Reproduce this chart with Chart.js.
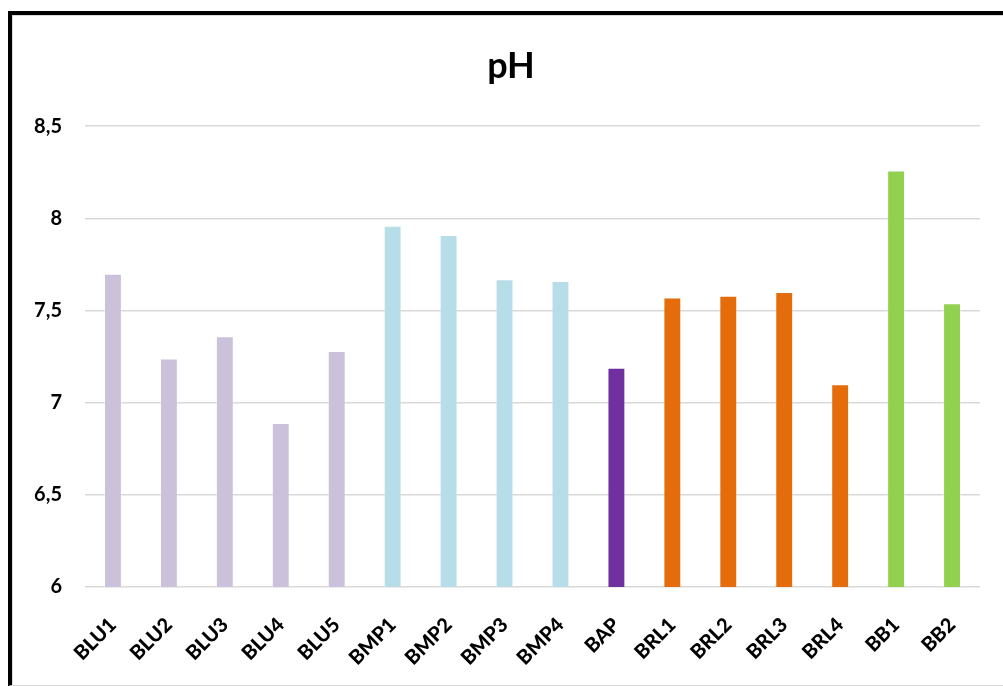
<!DOCTYPE html>
<html>
<head>
<meta charset="utf-8">
<script src="https://cdn.jsdelivr.net/npm/chart.js@4.4.1/dist/chart.umd.min.js"></script>
<style>
  html, body { margin: 0; padding: 0; background: #ffffff; overflow: hidden; width: 1003px; height: 686px; }
  #frame {
    position: absolute; left: 8px; top: 11px; width: 1100px; height: 675px;
    box-sizing: border-box;
    border-top: 4px solid #000; border-left: 4px solid #000; border-bottom: 1px solid #d9d9d9;
  }
  #inner {
    position: absolute; left: 0; top: 0; right: 0; bottom: 0;
    border-top: 1px solid #dcdcdc; border-left: 1px solid #dcdcdc;
  }
  #c { position: absolute; left: 0; top: 0; }
</style>
</head>
<body>
<div id="frame"><div id="inner"></div></div>
<canvas id="c" width="1022" height="686"></canvas>
<script>
const categories = ["BLU1","BLU2","BLU3","BLU4","BLU5","BMP1","BMP2","BMP3","BMP4","BAP","BRL1","BRL2","BRL3","BRL4","BB1","BB2"];
const phValues = [7.70, 7.24, 7.36, 6.89, 7.28, 7.96, 7.91, 7.67, 7.66, 7.19, 7.57, 7.58, 7.60, 7.10, 8.26, 7.54];
const barColors = ["#CCC1DA","#CCC1DA","#CCC1DA","#CCC1DA","#CCC1DA","#B7DEE8","#B7DEE8","#B7DEE8","#B7DEE8","#7030A0","#E46C0A","#E46C0A","#E46C0A","#E46C0A","#92D050","#92D050"];
const yTicks = [6, 6.5, 7, 7.5, 8, 8.5];
const chartTitle = "pH";

const FONT = "Lato, 'Open Sans', sans-serif";

new Chart(document.getElementById('c'), {
  type: 'bar',
  data: {
    labels: categories,
    datasets: [{
      label: chartTitle,
      data: phValues,
      backgroundColor: barColors,
      borderColor: 'rgba(255,255,255,0.35)',
      borderWidth: 1,
      barPercentage: 0.64,
      categoryPercentage: 0.5
    }]
  },
  options: {
    responsive: false,
    animation: false,
    layout: { padding: 0 },
    plugins: {
      legend: { display: false },
      tooltip: { enabled: false },
      title: {
        display: true,
        text: chartTitle,
        color: '#000',
        font: { family: FONT, size: 36, weight: 'bold', lineHeight: 1.2 },
        padding: { top: 45, bottom: 38 }
      }
    },
    scales: {
      y: {
        min: 6, max: 8.5,
        afterBuildTicks: s => { s.ticks = yTicks.map(v => ({ value: v })); },
        afterFit: s => { s.width = 85; },
        border: { display: false },
        grid: { color: '#d9d9d9', lineWidth: 1.5, drawTicks: false },
        ticks: {
          padding: 23,
          color: '#000',
          font: { family: FONT, size: 20, weight: 'bold' },
          callback: v => String(v).replace('.', ',')
        }
      },
      yRight: {
        type: 'linear',
        position: 'right',
        display: true,
        border: { display: false },
        grid: { display: false, drawTicks: false },
        ticks: { display: false },
        afterFit: s => { s.width = 42; }
      },
      x: {
        border: { display: false },
        grid: { display: false },
        afterFit: s => { s.height = 99; },
        ticks: {
          minRotation: 45, maxRotation: 45,
          autoSkip: false,
          padding: 18,
          color: '#000',
          font: { family: FONT, size: 20, weight: '900' }
        }
      }
    }
  }
});
</script>
</body>
</html>
